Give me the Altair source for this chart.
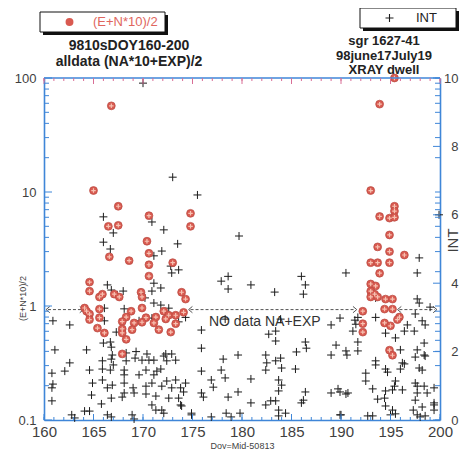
import altair as alt
import pandas as pd

# (E+N*10)/2 series: day of year, value (log axis, left)
en_day = [166.8, 165.0, 167.5, 170.6, 174.8, 174.8, 166.5, 167.5, 170.4, 170.6, 166.6, 168.6, 173.0, 170.6,
          195.4, 193.9, 193.0, 195.4, 195.4, 193.9, 194.9, 195.4, 194.9, 193.7, 194.9, 196.4, 193.0, 193.7, 194.9,
          193.9, 193.0, 193.5, 193.0, 193.4, 193.0, 193.7, 194.5, 195.2, 194.4, 195.2, 192.2, 195.9, 194.4, 195.0,
          192.2, 192.2, 195.7, 194.9, 195.2,
          170.6, 164.6, 164.6, 173.9, 174.3, 165.6, 165.9, 167.1, 167.6, 169.8, 169.9, 169.9, 164.1, 164.3, 165.6,
          165.6, 164.6, 168.8, 168.3, 167.9, 170.3, 171.3, 172.1, 172.6, 173.3, 174.1, 172.3, 169.1, 171.1,
          164.6, 165.4, 166.1, 167.9, 167.9, 168.9, 169.9, 171.6, 172.8, 173.3, 168.3, 167.9]
en_val = [57, 10.3, 7.5, 6.2, 6.5, 5.0, 5.0, 5.1, 3.7, 2.9, 2.7, 2.5, 2.4, 2.3,
          100, 59, 10.3, 7.5, 6.8, 6.1, 5.9, 6.0, 4.2, 3.3, 3.0, 2.8, 2.4, 2.4, 2.4,
          1.94, 1.56, 1.5, 1.35, 1.27, 1.2, 1.2, 1.15, 1.15, 0.94, 0.94, 0.9, 0.8, 0.71, 0.67,
          0.7, 0.59, 0.76, 0.41, 0.37,
          1.83, 1.62, 1.35, 1.32, 1.15, 1.2, 1.27, 1.27, 1.2, 1.32, 1.2, 0.96, 0.96, 0.9, 0.94,
          0.79, 0.85, 0.9, 0.8, 0.73, 0.79, 0.8, 0.9, 0.83, 0.83, 0.88, 0.77, 0.71, 0.71,
          0.76, 0.64, 0.58, 0.63, 0.58, 0.62, 0.72, 0.62, 0.59, 0.70, 0.51, 0.38]

# INT series: day of year, value (linear axis, right)
int_day = [170.0, 173.0, 175.5, 166.0, 170.9, 167.0, 172.1, 166.0, 166.7, 173.5, 171.9, 171.1, 172.8, 179.7, 199.9, 197.9,
           173.6, 172.9, 171.1, 171.8, 170.9, 166.4, 166.8, 168.0, 167.4, 170.2, 171.1, 171.8, 166.1, 168.1, 172.6, 174.3,
           160.9, 162.6, 166.1, 169.6, 170.9, 173.6,
           178.6, 177.9, 178.6, 180.9, 183.3, 186.0, 186.4, 186.2, 190.5, 189.9, 189.0, 191.4, 183.9, 178.3,
           197.7, 193.5, 197.7, 197.9, 199.0, 197.5, 198.2, 198.5, 191.7, 191.5, 193.5, 196.7,
           167.3, 166.0, 166.7, 166.8, 161.1, 164.3, 166.9, 168.3, 169.3, 169.2, 168.3, 169.9, 170.6, 171.1, 170.4,
           172.1, 172.3, 172.9, 173.3, 172.4, 166.8, 162.6, 165.9, 165.9, 166.7, 167.0, 164.6, 162.1, 160.8, 168.1,
           168.1, 170.3, 171.4, 171.8, 171.1, 169.6, 173.3, 172.4, 174.3, 160.9, 160.8, 164.9, 165.9, 166.4, 166.9,
           168.1, 169.0, 170.3, 170.9, 171.9, 172.9, 173.8, 174.1, 164.8, 166.8, 167.9, 168.1, 169.1, 170.3, 171.3,
           172.6, 173.6, 160.8, 165.8, 170.9, 173.8, 164.1, 164.6, 171.3, 171.9, 172.1, 174.9, 162.8, 166.4, 166.8,
           168.9, 169.1, 163.1, 173.9,
           175.9, 182.7, 183.4, 183.4, 191.2, 175.9, 178.1, 179.6, 182.4, 182.5, 183.4, 183.9, 184.0, 182.4, 185.4,
           185.5, 186.4, 186.5, 189.0, 189.5, 190.5, 190.6, 175.9, 177.9, 176.9, 178.3, 180.9, 183.7, 184.0, 183.7,
           177.1, 175.9, 176.1, 179.6, 178.6, 186.4, 186.2, 186.0, 189.0, 189.7, 189.9, 190.5, 180.9, 182.4, 182.9,
           183.4, 183.7, 184.4, 183.7, 179.8, 178.4, 178.9, 176.9, 174.9, 189.9,
           194.5, 195.5, 196.4, 197.4, 198.4, 197.7, 198.4, 197.5, 198.5, 191.7, 191.7, 196.0, 193.5, 193.5, 194.5,
           194.7, 196.2, 196.4, 196.0, 197.9, 198.2, 192.5, 192.5, 195.5, 195.4, 196.2, 195.2, 194.5, 193.2, 197.5,
           197.7, 198.4, 199.4, 198.7, 197.7, 194.4, 193.7, 197.5, 199.4, 199.4, 194.5, 198.2, 197.3, 199.4, 195.2,
           195.5, 195.0, 197.7, 198.5, 198.0, 193.2, 192.7, 190.0, 190.7]
int_val = [9.85, 7.1, 6.58, 5.94, 5.79, 5.47, 5.56, 5.2, 5.0, 5.15, 4.94, 4.8, 4.5, 5.38, 6.0, 4.74,
           4.39, 4.3, 4.0, 3.86, 3.77, 3.95, 3.8, 3.77, 3.66, 3.57, 3.42, 3.36, 3.27, 3.25, 3.27, 3.0,
           2.9, 2.78, 2.9, 2.9, 2.98, 2.87,
           4.2, 4.06, 3.83, 3.95, 3.74, 4.2, 3.95, 3.68, 4.3, 2.98, 2.78, 2.92, 2.95, 2.95,
           4.3, 3.57, 3.54, 3.42, 3.3, 3.1, 2.9, 2.78, 3.0, 2.8, 3.0, 2.78,
           2.57, 2.25, 2.28, 2.13, 2.05, 2.05, 1.9, 1.96, 2.0, 1.81, 1.73, 1.75, 1.75, 1.75, 1.93,
           1.87, 1.93, 1.93, 1.75, 1.73, 1.78, 1.67, 1.73, 1.49, 1.46, 1.61, 1.46, 1.43, 1.37, 1.46,
           1.32, 1.46, 1.43, 1.49, 1.32, 1.32, 1.17, 1.14, 1.08, 1.05, 0.94, 1.08, 1.17, 0.94, 1.02,
           1.08, 0.94, 0.99, 1.08, 0.99, 0.94, 0.94, 0.82, 0.73, 0.64, 0.67, 0.79, 0.79, 0.76, 0.7,
           0.64, 0.64, 0.56, 0.47, 0.44, 0.44, 0.26, 0.26, 0.29, 0.29, 0.2, 0.2, 0.15, 0.15, 0.09,
           0.15, 0.03, 0.06, 0.41,
           2.63, 2.51, 2.6, 2.31, 2.6, 2.1, 1.78, 1.9, 1.9, 1.67, 1.73, 1.81, 1.52, 1.46, 1.49,
           1.99, 2.28, 2.1, 1.9, 2.19, 2.02, 1.9, 1.43, 1.46, 1.17, 1.23, 1.2, 1.17, 1.02, 0.85,
           0.96, 0.79, 0.67, 0.82, 0.67, 0.82, 0.58, 0.5, 0.79, 0.91, 0.82, 0.76, 0.5, 0.44, 0.56,
           0.56, 0.29, 0.2, 0.12, 0.2, 0.2, 0.09, 0.09, 0.15, 0.15,
           2.54, 2.4, 2.6, 2.6, 2.25, 2.05, 1.9, 1.84, 1.87, 2.28, 2.02, 2.05, 1.73, 1.61, 1.49,
           1.4, 1.67, 1.64, 1.49, 1.52, 1.46, 1.37, 1.14, 1.14, 0.99, 0.88, 0.88, 0.85, 0.91, 1.08,
           0.99, 0.99, 0.94, 0.79, 0.79, 0.64, 0.61, 0.58, 0.5, 0.44, 0.41, 0.38, 0.29, 0.29, 0.29,
           0.18, 0.15, 0.15, 0.12, 0.09, 0.12, 0.12, 0.15, 0.79]

# "no data" spans (dashed double arrows) and note
gap_start = [160.4, 174.8, 195.9]
gap_end = [163.8, 191.4, 199.5]
gap_level = [0.93, 0.93, 0.93]
note_day = [182.3]
note_level = [0.73]
note_text = ["NO data NA+EXP"]

x_major = [160, 165, 170, 175, 180, 185, 190, 195, 200]
x_minor = list(range(160, 201))
log_major = [0.1, 1, 10, 100]
log_minor = [m * d for d in (0.1, 1, 10) for m in range(2, 10)]
int_major = [0, 2, 4, 6, 8, 10]

W, H = 396, 342
BLUE = "#3f86d8"
PINK = "#d86e96"
TXT = "#3f3f3f"
FONT = "Liberation Sans"
PLUS = "M-1,0L1,0M0,-1L0,1"
LCHEV = "M0.6,-1L-0.6,0L0.6,1"
RCHEV = "M-0.6,-1L0.6,0L-0.6,1"

en_df = pd.DataFrame({"day": en_day, "val": en_val, "series": "(E+N*10)/2"})
int_df = pd.DataFrame({"day": int_day, "int": int_val, "series": "INT"})
gap_df = pd.DataFrame({"start": gap_start, "end": gap_end, "level": gap_level})
note_df = pd.DataFrame({"day": note_day, "level": note_level, "text": note_text})
one = pd.DataFrame({"k": [0]})

xs = alt.Scale(domain=[160, 200], nice=False, zero=False)
ylog = alt.Scale(type="log", domain=[0.1, 100], nice=False)
ylin = alt.Scale(domain=[0, 10], nice=False, zero=False)


def x_ticks(values, y0, y1, color):
    df = pd.DataFrame({"tx": [float(v) for v in values]})
    return alt.Chart(df).mark_rule(color=color, strokeWidth=1).encode(
        x=alt.X("tx:Q", scale=xs, axis=None), y=alt.value(y0), y2=alt.value(y1))


def y_ticks(values, scale, x0, x1, color, name):
    df = pd.DataFrame({name: [float(v) for v in values]})
    return alt.Chart(df).mark_rule(color=color, strokeWidth=1).encode(
        y=alt.Y(f"{name}:Q", scale=scale, axis=None), x=alt.value(x0), x2=alt.value(x1))


# frame top edge and inward ticks on all four sides
top_edge = alt.Chart(one).mark_rule(color=BLUE, strokeWidth=1.6).encode(
    x=alt.value(0), x2=alt.value(W), y=alt.value(0))
ticks = [
    top_edge,
    x_ticks(x_major, H, H - 6, BLUE), x_ticks(x_minor, H, H - 3, BLUE),
    x_ticks(x_major, 0, 6, PINK), x_ticks(x_minor, 0, 3, PINK),
    y_ticks(log_major, ylog, 0, 8, BLUE, "tl"), y_ticks(log_minor, ylog, 0, 5, BLUE, "tl"),
    y_ticks(log_major + log_minor, ylog, W, W - 5, BLUE, "tl"),
    y_ticks(int_major, ylin, W, W - 7, BLUE, "ti"),
]

# legend boxes with drop shadow
box_layers = []
for x0, y0, x1, y1 in [(-4, -66, 121, -46), (316, -70, 412, -50)]:
    box_layers.append(alt.Chart(one).mark_rect(color="#111").encode(
        x=alt.value(x0 + 3), x2=alt.value(x1 + 3), y=alt.value(y0 + 3), y2=alt.value(y1 + 3)))
    box_layers.append(alt.Chart(one).mark_rect(fill="white", stroke="#111", strokeWidth=1).encode(
        x=alt.value(x0), x2=alt.value(x1), y=alt.value(y0), y2=alt.value(y1)))

title_left = alt.Chart(one).mark_text(font=FONT, fontSize=14, fontWeight="bold", color="#222",
                                      lineHeight=16, align="center", baseline="alphabetic").encode(
    x=alt.value(85), y=alt.value(-28),
    text=alt.value(["9810sDOY160-200", "alldata (NA*10+EXP)/2"]))
title_right = alt.Chart(one).mark_text(font=FONT, fontSize=13, fontWeight="bold", color="#222",
                                       lineHeight=14.5, align="center", baseline="alphabetic").encode(
    x=alt.value(340), y=alt.value(-33),
    text=alt.value(["sgr 1627-41", "98june17July19", "XRAY dwell"]))

red = alt.Chart(en_df).mark_point(shape="circle", filled=True, size=62, opacity=1,
                                   stroke="#b84a42", strokeWidth=0.7).encode(
    x=alt.X("day:Q", scale=xs, axis=alt.Axis(
        orient="bottom", values=x_major, format="d", title="Doy=Mjd-50813", ticks=False,
        domainColor=BLUE, domainWidth=1.6, grid=False, labelFont=FONT, labelFontSize=15,
        labelColor=TXT, labelPadding=4, labelFlush=False, labelOverlap=False,
        titleFont=FONT, titleFontSize=9, titleFontWeight="normal", titleColor=TXT, titlePadding=2)),
    y=alt.Y("val:Q", scale=ylog, axis=alt.Axis(
        orient="left", values=log_major, format="~g", title="(E+N*10)/2", ticks=False,
        domainColor=BLUE, domainWidth=1.6, grid=False, labelFont=FONT, labelFontSize=13,
        labelColor=TXT, labelPadding=8, labelFlush=False, labelOverlap=False,
        titleFont=FONT, titleFontSize=9, titleFontWeight="normal", titleColor=TXT,
        titleX=-22, titleY=220, titleAngle=-90, titleAlign="center", titleBaseline="middle")),
    color=alt.Color("series:N", scale=alt.Scale(domain=["(E+N*10)/2"], range=["#d95a50"]),
                    legend=alt.Legend(orient="none", legendX=19, legendY=-62.5, title=None, padding=0,
                                      symbolType="circle", symbolSize=62, symbolStrokeWidth=0,
                                      labelOffset=17, labelFont=FONT, labelFontSize=13,
                                      labelColor="#e0665e")),
)

red_cross = alt.Chart(en_df).mark_point(shape=PLUS, size=20, filled=False, color="#f7c2b2",
                                         strokeWidth=1.2, opacity=1).encode(
    x=alt.X("day:Q", scale=xs, axis=None),
    y=alt.Y("val:Q", scale=ylog, axis=None),
)

black = alt.Chart(int_df).mark_point(shape=PLUS, size=64, filled=False, strokeWidth=1,
                                      opacity=1).encode(
    x=alt.X("day:Q", scale=xs, axis=None),
    y=alt.Y("int:Q", scale=ylin, axis=alt.Axis(
        orient="right", values=int_major, format="d", title="INT", ticks=False, tickSize=0,
        domainColor=BLUE, domainWidth=1.6, grid=False, labelFont=FONT, labelFontSize=13,
        labelColor=TXT, labelAlign="right", labelPadding=18, labelFlush=False, labelOverlap=False,
        titleFont=FONT, titleFontSize=15, titleFontWeight="normal", titleColor=TXT,
        titleX=12, titleY=162, titleAngle=-90, titleAlign="center", titleBaseline="middle")),
    color=alt.Color("series:N", scale=alt.Scale(domain=["INT"], range=["#1c1c1c"]),
                    legend=alt.Legend(orient="none", legendX=339, legendY=-66.5, title=None, padding=0,
                                      symbolType=PLUS, symbolSize=64, symbolStrokeWidth=1.1,
                                      labelOffset=20, labelFont=FONT, labelFontSize=13,
                                      labelColor="#222")),
)

gap_line = alt.Chart(gap_df).mark_rule(strokeDash=[3, 2], color="#555", strokeWidth=1).encode(
    x=alt.X("start:Q", scale=xs, axis=None),
    x2="end:Q",
    y=alt.Y("level:Q", scale=ylog, axis=None),
)
gap_left = alt.Chart(gap_df).mark_point(shape=LCHEV, size=40, filled=False, color="#555",
                                         strokeWidth=1, opacity=1).encode(
    x=alt.X("start:Q", scale=xs, axis=None),
    y=alt.Y("level:Q", scale=ylog, axis=None),
)
gap_right = alt.Chart(gap_df).mark_point(shape=RCHEV, size=40, filled=False, color="#555",
                                          strokeWidth=1, opacity=1).encode(
    x=alt.X("end:Q", scale=xs, axis=None),
    y=alt.Y("level:Q", scale=ylog, axis=None),
)
note = alt.Chart(note_df).mark_text(font=FONT, fontSize=14, color="#333").encode(
    x=alt.X("day:Q", scale=xs, axis=None),
    y=alt.Y("level:Q", scale=ylog, axis=None),
    text="text:N",
)

chart = alt.layer(
    *box_layers, title_left, title_right,
    gap_line, gap_left, gap_right, note,
    black, red, red_cross,
    *ticks,
).resolve_scale(
    y="independent", color="independent"
).resolve_axis(
    x="independent", y="independent"
).properties(
    width=W, height=H,
    autosize=alt.AutoSizeParams(type="none"),
    padding={"left": 36, "top": 70, "right": 20, "bottom": 29},
    background="white",
).configure_view(strokeWidth=0)

chart.save("out.html", embed_options={"renderer": "svg", "actions": False})
